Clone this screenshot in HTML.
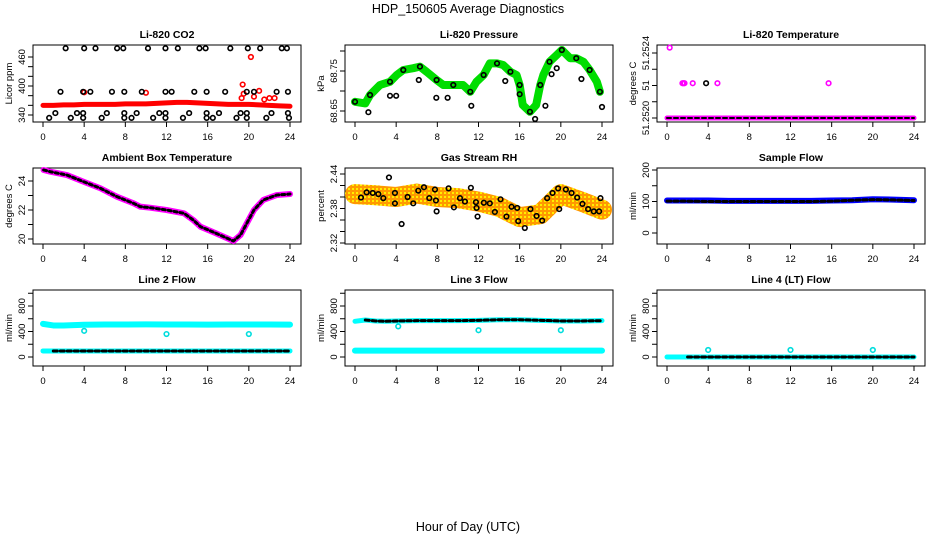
<!DOCTYPE html>
<html><head><meta charset="utf-8"><style>
html,body{margin:0;padding:0;background:#fff;}
svg{display:block;font-family:"Liberation Sans",sans-serif;}
</style></head><body>
<svg id="chart" width="936" height="540" viewBox="0 0 936 540">
<defs>
<pattern id="rhpat" width="4" height="4" patternUnits="userSpaceOnUse"><rect width="4" height="4" fill="#ff9900"/><rect x="0" y="0" width="2" height="2" fill="#ffee00"/></pattern>
</defs>
<text x="468" y="13" text-anchor="middle" font-size="12.5">HDP_150605  Average Diagnostics</text>
<text x="468" y="531" text-anchor="middle" font-size="12.5">Hour of Day (UTC)</text>
</svg>
<script>
// ---------- data ----------
const xTicks = [0,4,8,12,16,20,24];
// CO2
const co2Hours = [0,1,2,3,4,5,6,7,8,9,10,11,12,13,14,15,16,17,18,19,20,21,22,23,24];
const co2Red = [360,360,361,361,362,362,362,362,363,363,363,364,365,366,366,365,364,363,362,362,362,361,360,359,358];
const co2RedOutH = [4,10,19.3,19.4,19.5,20.2,20.5,21,21.5,22,22.5];
const co2RedOutV = [387,386,375,403,384,460,378,390,372,375,375];
const co2TopH = [2.2,4.0,5.1,7.2,7.8,10.2,11.9,13.1,15.2,15.8,18.2,19.9,21.1,23.2,23.7];
const co2TopV = 478;
const co2MidH = [1.7,3.9,4.6,6.7,7.9,9.6,11.9,12.5,14.7,15.9,17.7,19.8,20.5,22.7,23.8];
const co2MidV = 388;
const co2LowH = [1.2,3.3,3.9,6.2,7.9,9.1,11.3,11.9,14.2,15.9,17.1,19.2,19.8,22.2,23.8];
const co2LowV = 344;
const co2BotH = [0.6,2.7,3.9,5.7,7.9,8.6,10.7,11.9,13.6,15.9,16.5,18.8,19.8,21.7,23.9];
const co2BotV = 334;
// Pressure
const presH = [0,1,1.46,2.43,3.4,4.05,4.69,5.66,6.31,6.96,7.93,8.58,9.55,10.5,11.2,11.8,12.5,13.1,13.8,14.4,15.1,15.7,16.0,16.3,17.0,17.6,18.0,18.3,18.9,19.6,20.1,20.9,21.5,22.2,22.8,23.5,23.8];
const presV = [68.673,68.669,68.69,68.715,68.723,68.74,68.7525,68.757,68.761,68.748,68.7275,68.715,68.715,68.715,68.698,68.723,68.74,68.769,68.769,68.765,68.748,68.74,68.715,68.665,68.648,68.665,68.715,68.74,68.773,68.79,68.8025,68.782,68.782,68.773,68.7525,68.723,68.698];
const presBlkH = [1.3,3.4,4.0,6.2,7.9,9.0,11.3,14.6,16.0,17.5,18.5,19.1,19.6,22.0,24.0];
const presBlkV = [68.647,68.688,68.688,68.7275,68.683,68.683,68.663,68.725,68.692,68.63,68.663,68.742,68.757,68.73,68.66];
// Li-820 temperature
const tempBaseH = [0,1,2,3,4,5,6,7,8,9,10,11,12,13,14,15,16,17,18,19,20,21,22,23,24];
const tempBaseV = [51.2520,51.2520,51.2520,51.2520,51.2520,51.2520,51.2520,51.2520,51.2520,51.2520,51.2520,51.2520,51.2520,51.2520,51.2520,51.2520,51.2520,51.2520,51.2520,51.2520,51.2520,51.2520,51.2520,51.2520,51.2520];
const tempPinkH = [0.26,1.5,1.6,1.7,2.5,4.9,15.7];
const tempPinkV = [51.252433,51.252214,51.252214,51.252214,51.252214,51.252214,51.252214];
const tempBlkH = [3.8];
const tempBlkV = [51.252214];
// Ambient box temperature
const ambH = [0.06,0.71,2.33,3.95,5.57,7.18,8.8,9.45,10.4,12.0,13.7,14.6,15.3,16.6,17.9,18.5,19.2,19.8,20.5,21.4,22.7,24.0];
const ambV = [24.76,24.64,24.41,23.95,23.5,22.92,22.46,22.23,22.16,22.0,21.77,21.31,20.85,20.46,20.05,19.86,20.28,21.08,22.0,22.69,23.03,23.1];
// Gas stream RH
const rhBandH = [0,2,4,6,8,10,12,14,16,18,20,22,24];
const rhBandV = [2.405,2.403,2.400,2.406,2.400,2.398,2.392,2.383,2.365,2.370,2.405,2.392,2.378];
const rhBlkH = [0.58,1.13,1.72,2.27,2.75,3.3,3.88,3.88,4.53,5.11,5.66,6.15,6.7,7.22,7.77,7.86,7.93,9.09,9.61,10.2,10.68,11.26,11.75,11.81,11.91,12.52,13.1,13.59,14.14,14.72,15.21,15.76,15.86,16.5,17.05,17.64,18.19,18.67,19.19,19.74,19.84,20.49,21.04,21.59,22.1,22.65,23.2,23.72,23.85];
const rhBlkV = [2.399,2.408,2.407,2.405,2.398,2.434,2.407,2.389,2.353,2.4,2.389,2.411,2.417,2.398,2.413,2.394,2.375,2.415,2.382,2.398,2.392,2.416,2.391,2.381,2.366,2.39,2.389,2.374,2.396,2.366,2.383,2.381,2.358,2.346,2.379,2.367,2.359,2.398,2.407,2.415,2.379,2.413,2.407,2.399,2.388,2.379,2.375,2.375,2.398];
// Sample flow
const sfH = [0,2,4,6,8,10,12,14,16,18,20,22,24];
const sfBlue = [103,103,103,102,102,102,102,102,103,104,107,106,104];
const sfBlack = [101,101,100,100,100,100,100,100,101,104,106,105,103];
// Line 2 flow
const l2H = [0,1,2,3,4,6,8,10,12,14,16,18,20,22,24];
const l2Upper = [520,495,495,500,505,510,510,512,510,510,508,510,510,510,508];
const l2Lower = [95,95,95,95,95,95,95,95,95,95,95,95,95,95,95];
const l2OutH = [4,12,20];
const l2OutV = [410,360,360];
// Line 3 flow
const l3H = [0,1,2,3,4,6,8,10,12,14,16,18,20,22,24];
const l3Upper = [560,580,565,560,565,570,570,570,575,585,585,575,565,565,570];
const l3Lower = [100,100,100,100,100,100,100,100,100,100,100,100,100,100,100];
const l3OutH = [4.2,12,20];
const l3OutV = [480,420,420];
// Line 4 flow
const l4H = [0,2,4,6,8,10,12,14,16,18,20,22,24];
const l4V = [0,0,0,0,0,0,0,0,0,0,0,0,0];
const l4OutH = [4,12,20];
const l4OutV = [110,110,110];

// ---------- helpers ----------
const NS = "http://www.w3.org/2000/svg";
const svg = document.getElementById("chart");
function el(tag, parent){ const e = document.createElementNS(NS, tag); parent.appendChild(e); return e; }
function at(e, o){ for (const k in o) e.setAttribute(k, o[k]); return e; }
function linMap(v0,p0,v1,p1){ return v => p0 + (v - v0) * (p1 - p0) / (v1 - v0); }
const rowTop = [45,168,290], rowBot = [122,244,366];

function panel(c, r, title, ylab, yMap, yTicks, yLabels, name){
  const g = el("g", svg);
  
  
  const x0 = 33 + 312*c, x1 = 301 + 312*c, top = rowTop[r], bot = rowBot[r];
  const xs = h => 43 + 312*c + h * (247/24);
  const frame = at(el("rect", g), {x:x0, y:top, width:x1-x0, height:bot-top, fill:"none", stroke:"#000", "stroke-width":1});
  
  
  const t = at(el("text", g), {x:(x0+x1)/2, y:top-7, "text-anchor":"middle", "font-size":10.5, "font-weight":"bold"});
  t.textContent = title;
  
  
  const yl = at(el("text", g), {x:0, y:0, "text-anchor":"middle", "font-size":9.5, transform:`translate(${x0-21},${(top+bot)/2}) rotate(-90)`});
  yl.textContent = ylab;
  
  
  xTicks.forEach(h => {
    const tk = at(el("line", g), {x1:xs(h), x2:xs(h), y1:bot, y2:bot+5, stroke:"#000"});
    
    
    const tl = at(el("text", g), {x:xs(h), y:bot+18, "text-anchor":"middle", "font-size":9.5});
    tl.textContent = h;
    
    
  });
  yTicks.forEach(v => {
    const tk = at(el("line", g), {x1:x0-5, x2:x0, y1:yMap(v), y2:yMap(v), stroke:"#000"});
    
    
  });
  yLabels.forEach(([v, s]) => {
    const tl = at(el("text", g), {x:0, y:0, "text-anchor":"middle", "font-size":9.5, transform:`translate(${x0-8},${yMap(v)}) rotate(-90)`});
    tl.textContent = s;
    
    
  });
  return {g, xs, yMap};
}
function band(p, H, V, color, width, nm){
  const pts = H.map((h,i) => p.xs(h) + "," + p.yMap(V[i])).join(" ");
  const pl = at(el("polyline", p.g), {points:pts, fill:"none", stroke:color, "stroke-width":width, "stroke-linejoin":"round", "stroke-linecap":"round"});
  
  
  return pl;
}
function pts(p, H, V, color, nm, rr){
  H.forEach((h,i) => {
    const v = Array.isArray(V) ? V[i] : V;
    const ci = at(el("circle", p.g), {cx:p.xs(h), cy:p.yMap(v), r:rr||2.3, fill:"none", stroke:color, "stroke-width":1.6});
    
    
  });
}

// ---------- CO2 ----------
let p = panel(0,0,"Li-820 CO2","Licor ppm",linMap(340,115,460,57),[340,360,380,400,420,440,460],[[340,"340"],[400,"400"],[460,"460"]],"co2");
band(p, co2Hours, co2Red, "#ff0000", 5, "co2-red-band");
pts(p, co2RedOutH, co2RedOutV, "#ff0000", "co2-red-point");
pts(p, co2TopH, co2TopV, "#000", "co2-black-point");
pts(p, co2MidH, co2MidV, "#000", "co2-black-point");
pts(p, co2LowH, co2LowV, "#000", "co2-black-point");
pts(p, co2BotH, co2BotV, "#000", "co2-black-point");
// ---------- Pressure ----------
p = panel(1,0,"Li-820 Pressure","kPa",linMap(68.65,111,68.75,71),[68.65,68.7,68.75,68.8],[[68.65,"68.65"],[68.75,"68.75"]],"pressure");
band(p, presH, presV, "#00dd00", 8, "pressure-green-band");
pts(p, presH.filter((h,i)=>i%2===0), presV.filter((v,i)=>i%2===0), "#000", "pressure-black-point");
pts(p, presBlkH, presBlkV, "#000", "pressure-black-point");
// ---------- Li-820 Temperature ----------
p = panel(2,0,"Li-820 Temperature","degrees C",linMap(51.2520,118,51.2524,53),[51.2520,51.2521,51.2522,51.2523,51.2524],[[51.2520,"51.2520"],[51.2522,"51"],[51.2524,"51.2524"]],"li820-temp");
band(p, tempBaseH, tempBaseV, "#ff00ff", 5, "li820-temp-magenta-band");
band(p, tempBaseH, tempBaseV, "#000", 2, "li820-temp-black-band").setAttribute("stroke-dasharray","4 3");
pts(p, tempPinkH, tempPinkV, "#ff00ff", "li820-temp-magenta-point");
pts(p, tempBlkH, tempBlkV, "#000", "li820-temp-black-point");
// ---------- Ambient ----------
p = panel(0,1,"Ambient Box Temperature","degrees C",linMap(20,239,24,181),[20,21,22,23,24],[[20,"20"],[22,"22"],[24,"24"]],"ambient");
band(p, ambH, ambV, "#ff00ff", 6, "ambient-magenta-band");
band(p, ambH, ambV, "#000", 3, "ambient-black-band").setAttribute("stroke-dasharray","3 3");
// ---------- RH ----------
p = panel(1,1,"Gas Stream RH","percent",linMap(2.32,243,2.44,174),[2.32,2.34,2.36,2.38,2.40,2.42,2.44],[[2.32,"2.32"],[2.38,"2.38"],[2.44,"2.44"]],"rh");
band(p, rhBandH, rhBandV, "url(#rhpat)", 20, "rh-orange-band");
pts(p, rhBlkH, rhBlkV, "#000", "rh-black-point");
// ---------- Sample Flow ----------
p = panel(2,1,"Sample Flow","ml/min",linMap(0,233,200,170),[0,50,100,150,200],[[0,"0"],[100,"100"],[200,"200"]],"sample-flow");
band(p, sfH, sfBlue, "#0000ff", 6, "sample-flow-blue-band");
band(p, sfH, sfBlack, "#000", 3, "sample-flow-black-band").setAttribute("stroke-dasharray","4 3");
// ---------- Line 2 ----------
const flowMap = linMap(0,357,800,306);
const flowTicks = [0,200,400,600,800,1000];
const flowLabels = [[0,"0"],[400,"400"],[800,"800"]];
p = panel(0,2,"Line 2 Flow","ml/min",flowMap,flowTicks,flowLabels,"line2");
band(p, l2H, l2Upper, "#00ffff", 6, "line2-cyan-upper-band");
band(p, l2H, l2Lower, "#00ffff", 5, "line2-cyan-lower-band");
band(p, l2H.slice(1), l2Lower.slice(1), "#000", 3, "line2-black-band").setAttribute("stroke-dasharray","4 3");
pts(p, l2OutH, l2OutV, "#00dddd", "line2-cyan-point");
// ---------- Line 3 ----------
p = panel(1,2,"Line 3 Flow","ml/min",flowMap,flowTicks,flowLabels,"line3");
band(p, l3H, l3Lower, "#00ffff", 6, "line3-cyan-lower-band");
band(p, l3H, l3Upper, "#00ffff", 5, "line3-cyan-upper-band");
band(p, l3H.slice(1), l3Upper.slice(1), "#000", 3, "line3-black-band").setAttribute("stroke-dasharray","4 3");
pts(p, l3OutH, l3OutV, "#00dddd", "line3-cyan-point");
// ---------- Line 4 ----------
p = panel(2,2,"Line 4 (LT) Flow","ml/min",flowMap,flowTicks,flowLabels,"line4");
band(p, l4H, l4V, "#00ffff", 5, "line4-cyan-band");
band(p, l4H.slice(1), l4V.slice(1), "#000", 3, "line4-black-band").setAttribute("stroke-dasharray","4 3");
pts(p, l4OutH, l4OutV, "#00dddd", "line4-cyan-point");
</script>
</body></html>
